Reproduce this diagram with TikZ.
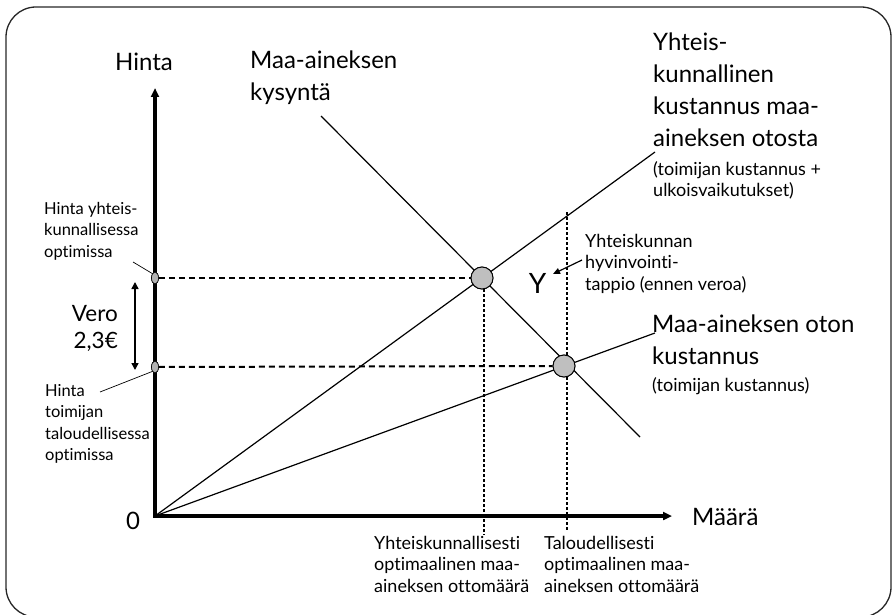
\documentclass[tikz,border=0pt]{standalone}
\usepackage{fontspec}
\setmainfont{Lato}[Ligatures={NoCommon,NoRequired,NoContextual}]
\usetikzlibrary{arrows.meta,shapes.geometric}
\begin{document}
\begin{tikzpicture}[x=1pt,y=-1pt,
  big/.style={inner sep=0pt,align=left,font=\fontsize{24}{32}\selectfont},
  small/.style={inner sep=0pt,align=left,font=\fontsize{18}{21.5}\selectfont},
  lsmall/.style={inner sep=0pt,align=left,font=\fontsize{16.5}{21.5}\selectfont},
  axis/.style={line width=3.5pt,-{Triangle[length=9pt,width=8pt]}},
  curve/.style={line width=1.2pt},
  hdash/.style={line width=2pt,dash pattern=on 6pt off 4pt},
  vdot/.style={line width=1.3pt,dash pattern=on 3pt off 2pt},
  dot/.style={circle,draw,line width=0.9pt,fill=black!25,minimum size=22pt,inner sep=0pt},
  tick/.style={ellipse,draw,line width=0.6pt,fill=black!30,minimum width=7pt,minimum height=12pt,inner sep=0pt},
  leader/.style={line width=0.7pt},
  tip/.style={-{Triangle[length=7pt,width=6pt]}}
]
\useasboundingbox (0,0) rectangle (892,615);
\begin{scope}
\clip (0,0) rectangle (892,615);
\draw[line width=1.3pt,black!85,rounded corners=30pt] (6,7) rectangle (891,617);
\end{scope}

% coordinates
\coordinate (O) at (155,516);
\coordinate (ytop) at (155,88);
\coordinate (xend) at (672,516);
\coordinate (dA) at (321,116);
\coordinate (dB) at (640,437);
\coordinate (sE) at (655,152);
\coordinate (pE) at (655,333);
\coordinate (v1b) at (484,535);
\coordinate (v2t) at (567,212);
\coordinate (v2b) at (567,531);

% curves
\draw[curve] (dA) -- (dB);
\draw[curve] (O) -- (sE);
\draw[curve] (O) -- (pE);

% optimum points
\node[dot] (c1) at (482,278) {};
\node[dot] (c2) at (564,366) {};
\node[tick] (t1) at (155,278) {};
\node[tick] (t2) at (155,367) {};

% dashed guides
\draw[hdash] (t1.east) -- (c1.west);
\draw[hdash] (t2.east) -- (c2.west);
\draw[vdot] (c1.south) ++(2,0) -- (v1b);
\draw[vdot] (v2t) -- (v2b);

% axes
\draw[axis] (O) -- (ytop);
\draw[axis] ([xshift=-1.75pt]O) -- (xend);

% redraw points on top
\node[dot] at (482,278) {};
\node[dot] at (564,366) {};
\node[tick] at (155,278) {};
\node[tick] at (155,367) {};

% labels
\node[big,anchor=center] (zero) at (133,521) {0};
\node[big,anchor=west] (hinta) at (115,62) {Hinta};
\node[big,anchor=west] (maara) at (692,517) {Määrä};
\node[big,anchor=north west] (kys) at (250,51) {Maa-aineksen\\kysyntä};
\node[big,anchor=north west] (yk) at (653,33) {Yhteis-\\kunnallinen\\kustannus maa-\\aineksen otosta};
\node[small,anchor=north west] (yk2) at (653,161) {(toimijan kustannus +\\ulkoisvaikutukset)};
\node[big,anchor=north west] (mo) at (652,315) {Maa-aineksen oton\\kustannus};
\node[small,anchor=north west] (mo2) at (652,377) {(toimijan kustannus)};
\node[small,anchor=north west] (hyv) at (585,234) {Yhteiskunnan\\hyvinvointi-\\tappio (ennen veroa)};
\node[inner sep=0pt,anchor=center,font=\fontsize{28}{32}\selectfont] (Y) at (537.5,283) {Y};
\node[inner sep=0pt,align=right,anchor=north east,font=\fontsize{22.5}{27}\selectfont] (vero) at (118,305) {Vero\\2,3€};
\node[lsmall,anchor=north west] (hy) at (44,202) {Hinta yhteis-\\kunnallisessa\\optimissa};
\node[lsmall,anchor=north west] (ht) at (45,384) {Hinta\\toimijan\\taloudellisessa\\optimissa};
\node[small,anchor=north west] (yo) at (374,536) {Yhteiskunnallisesti\\optimaalinen maa-\\aineksen ottomäärä};
\node[small,anchor=north west] (to) at (544,536) {Taloudellisesti\\optimaalinen maa-\\aineksen ottomäärä};

% arrows and leaders
\coordinate (va) at (135,282);
\coordinate (vb) at (135,370);
\draw[line width=1.5pt,{Triangle[length=7pt,width=7pt]}-{Triangle[length=7pt,width=7pt]}] (va) -- (vb);
\coordinate (l1) at (133,262);
\draw[leader] (l1) -- (t1.north west);
\coordinate (l2) at (100,392);
\draw[leader] (l2) -- (t2.south west);
\coordinate (ya) at (582,260);
\coordinate (yb) at (553,274);
\draw[leader,line width=1.2pt,tip] (ya) -- (yb);
\end{tikzpicture}
\end{document}
